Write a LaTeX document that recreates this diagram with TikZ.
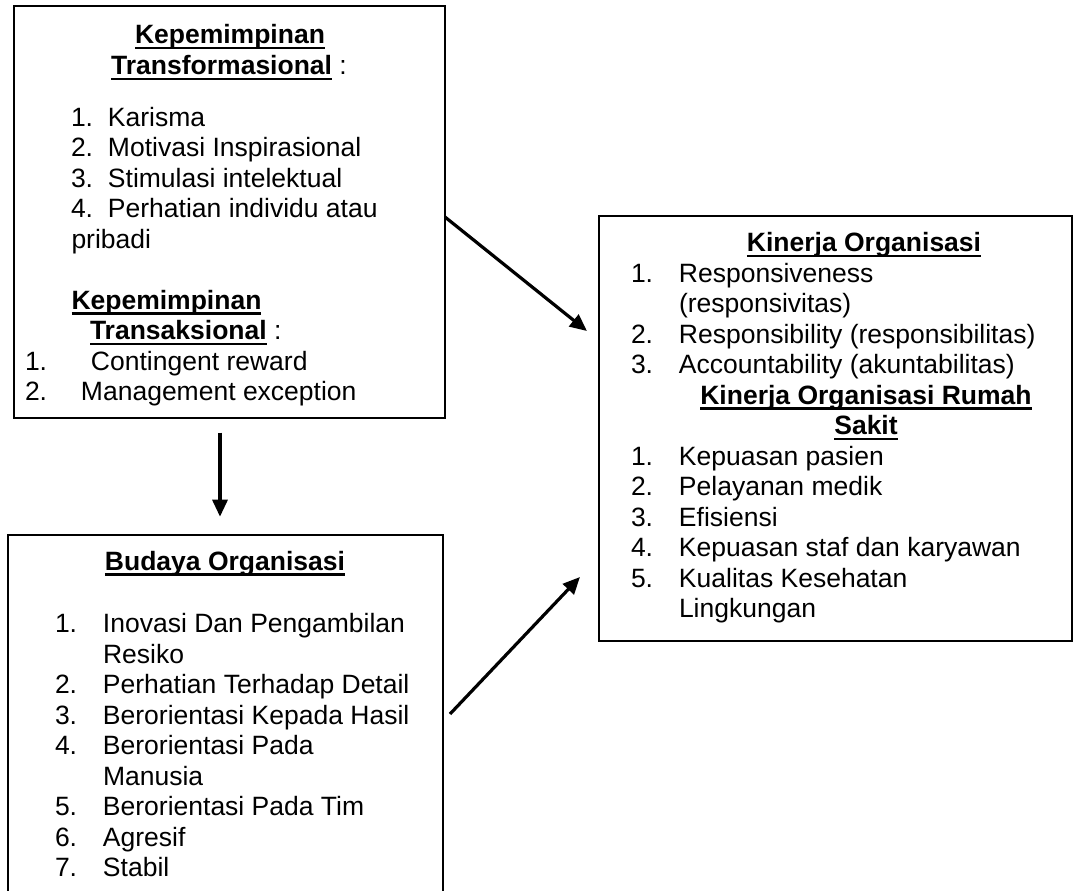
\documentclass[tikz,border=0pt]{standalone}
\usepackage{fontspec}
\setmainfont{Liberation Sans}
\usetikzlibrary{arrows.meta,calc}
\newsavebox\ulbox
\newcommand\ulx[1]{\sbox\ulbox{#1}\rlap{\rule[-5.5pt]{\wd\ulbox}{2.3pt}}\usebox\ulbox}
\newcommand\nb[2]{\makebox[#1pt][l]{#2}}
\tikzset{
 box/.style={draw, line width=2pt, inner sep=0pt, outer sep=0pt},
 txt/.style={inner sep=0pt, outer sep=0pt, anchor=base west, font=\fontsize{26.5}{30.5}\selectfont},
 ttl/.style={txt, anchor=base},
 arr/.style={line width=3.2pt, -{Triangle[length=17pt,width=15pt]}},
}
\begin{document}
\begin{tikzpicture}[x=1pt,y=-1pt]
\clip (0,0) rectangle (1076,891);
\fill[white] (0,0) rectangle (1076,891);

% boxes
\node[box, minimum width=431pt, minimum height=412pt] (A) at (229.5,212) {};
\node[box, minimum width=435pt, minimum height=380pt] (B) at (225.8,725) {};
\node[box, minimum width=472.7pt, minimum height=425pt] (C) at (835.6,428.5) {};

% box A text
\node[ttl] (hA1) at (230,44) {\ulx{\textbf{Kepemimpinan}}};
\node[ttl] (hA2) at (229,74.5) {\ulx{\textbf{Transformasional}} :};
\node[txt] (a1) at (71,126) {\nb{37}{1.}Karisma};
\node[txt] (a2) at (71,156.5) {\nb{37}{2.}Motivasi Inspirasional};
\node[txt] (a3) at (71,187) {\nb{37}{3.}Stimulasi intelektual};
\node[txt] (a4) at (71,217.5) {\nb{37}{4.}Perhatian individu atau};
\node[txt] (a5) at (71.5,248) {pribadi};
\node[txt] (a6) at (71.5,309) {\ulx{\textbf{Kepemimpinan}}};
\node[txt] (a7) at (90,339.5) {\ulx{\textbf{Transaksional}} :};
\node[txt] (a8) at (25,370) {\nb{66}{1.}Contingent reward};
\node[txt] (a9) at (25,400.5) {\nb{56}{2.}Management exception};

% box B text
\node[ttl] (hB) at (225,570) {\ulx{\textbf{Budaya Organisasi}}};
\node[txt] (b1) at (55,632.5) {\nb{48}{1.}Inovasi Dan Pengambilan};
\node[txt] (b2) at (103,663) {Resiko};
\node[txt] (b3) at (55,693.5) {\nb{48}{2.}Perhatian Terhadap Detail};
\node[txt] (b4) at (55,724) {\nb{48}{3.}Berorientasi Kepada Hasil};
\node[txt] (b5) at (55,754.5) {\nb{48}{4.}Berorientasi Pada};
\node[txt] (b6) at (103,785) {Manusia};
\node[txt] (b7) at (55,815.5) {\nb{48}{5.}Berorientasi Pada Tim};
\node[txt] (b8) at (55,846) {\nb{48}{6.}Agresif};
\node[txt] (b9) at (55,876.5) {\nb{48}{7.}Stabil};

% box C text
\node[ttl] (hC1) at (864,251.7) {\ulx{\textbf{Kinerja Organisasi}}};
\node[txt] (c1) at (631,282) {\nb{48}{1.}Responsiveness};
\node[txt] (c2) at (679,312.5) {(responsivitas)};
\node[txt] (c3) at (631,343) {\nb{48}{2.}Responsibility (responsibilitas)};
\node[txt] (c4) at (631,373.5) {\nb{48}{3.}Accountability (akuntabilitas)};
\node[ttl] (hC2) at (866,404) {\ulx{\textbf{Kinerja Organisasi Rumah}}};
\node[ttl] (hC3) at (866,434.5) {\ulx{\textbf{Sakit}}};
\node[txt] (c5) at (631,465) {\nb{48}{1.}Kepuasan pasien};
\node[txt] (c6) at (631,495.5) {\nb{48}{2.}Pelayanan medik};
\node[txt] (c7) at (631,526) {\nb{48}{3.}Efisiensi};
\node[txt] (c8) at (631,556.5) {\nb{48}{4.}Kepuasan staf dan karyawan};
\node[txt] (c9) at (631,587) {\nb{48}{5.}Kualitas Kesehatan};
\node[txt] (c10) at (679,617.5) {Lingkungan};

% connector end points
\coordinate (ac1) at ($(A.north east)+(0,211)$);
\coordinate (ac2) at ($(C.west)+(-12.3,-97.5)$);
\coordinate (ab1) at ($(A.south)+(-9.5,14.5)$);
\coordinate (ab2) at ($(B.north)+(-5.8,-18.3)$);
\coordinate (bc1) at ($(B.east)+(6.7,-11)$);
\coordinate (bc2) at ($(C.south west)+(-19.3,-64)$);

\draw[arr] (ac1) -- (ac2);
\draw[arr] (ab1) -- (ab2);
\draw[arr] (bc1) -- (bc2);
\end{tikzpicture}
\end{document}
